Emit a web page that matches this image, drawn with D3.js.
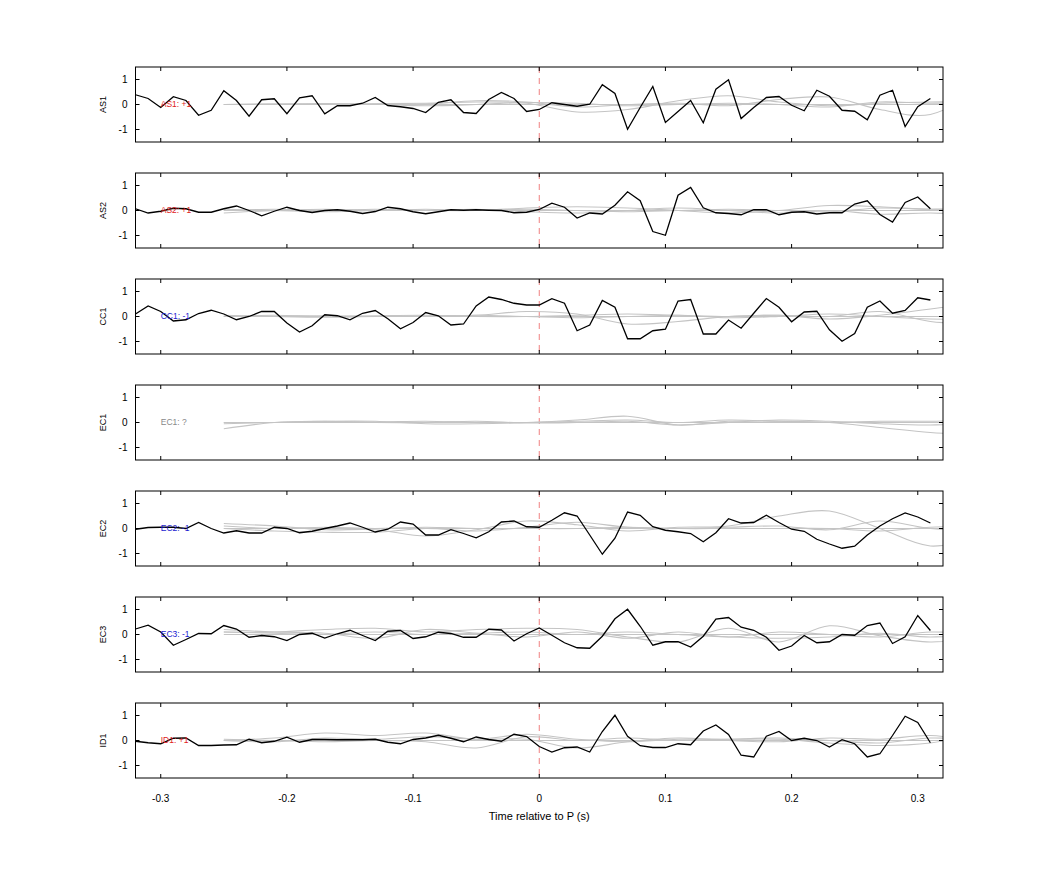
<!DOCTYPE html>
<html>
<head>
<meta charset="UTF-8">
<script src="https://d3js.org/d3.v7.min.js"></script>
<style>
  body { margin: 0; background: #fff; }
  text { font-family: "Liberation Sans", Arial, sans-serif; }
</style>
</head>
<body>
<svg id="chart" width="1042" height="875"></svg>
<script>
// stations and polarity labels
const stations = ["AS1", "AS2", "CC1", "EC1", "EC2", "EC3", "ID1"];
const polarity = ["+1", "+1", "-1", "?", "-1", "-1", "+1"];

// black trace sample times: -0.32 .. 0.31 step 0.01
const traceTimes = d3.range(64).map(i => +(-0.32 + i * 0.01).toFixed(2));

const traceAS1 = [0.39,0.24,-0.12,0.31,0.16,-0.43,-0.23,0.55,0.16,-0.47,0.19,0.23,-0.37,0.27,0.35,-0.37,-0.05,-0.05,0.05,0.28,-0.04,-0.09,-0.16,-0.32,0.09,0.19,-0.32,-0.36,0.2,0.48,0.24,-0.28,-0.2,0.07,0.0,-0.07,0.01,0.79,0.44,-0.99,-0.12,0.72,-0.72,-0.28,0.16,-0.73,0.61,0.99,-0.56,-0.12,0.28,0.32,-0.03,-0.25,0.57,0.33,-0.23,-0.27,-0.61,0.37,0.57,-0.88,-0.09,0.24];
const traceAS2 = [0.07,-0.1,-0.03,0.09,0.07,-0.07,-0.07,0.07,0.18,0,-0.21,-0.03,0.13,0,-0.08,0,0.03,-0.03,-0.12,-0.04,0.13,0.07,-0.05,-0.13,-0.05,0.03,0.01,0.03,0.01,0,-0.09,-0.07,0.04,0.29,0.13,-0.3,-0.1,-0.14,0.21,0.75,0.39,-0.84,-0.99,0.61,0.92,0.11,-0.09,-0.12,-0.17,0.03,0.03,-0.17,-0.07,-0.05,-0.14,-0.09,-0.09,0.26,0.39,-0.16,-0.46,0.32,0.54,0.07];
const traceCC1 = [0.1,0.42,0.2,-0.18,-0.13,0.12,0.25,0.1,-0.13,0,0.2,0.2,-0.26,-0.62,-0.37,0.07,0.03,-0.13,0.13,0.24,-0.09,-0.49,-0.24,0.16,0.03,-0.34,-0.3,0.42,0.78,0.68,0.53,0.46,0.46,0.71,0.53,-0.57,-0.34,0.64,0.37,-0.89,-0.89,-0.57,-0.51,0.62,0.68,-0.7,-0.7,-0.14,-0.47,0.13,0.72,0.37,-0.21,0.18,0.21,-0.53,-0.99,-0.68,0.37,0.62,0.13,0.24,0.75,0.66];
const traceEC1 = null;
const traceEC2 = [-0.03,0.04,0.05,0.05,0,0.24,0,-0.18,-0.09,-0.18,-0.18,0.05,0,-0.17,-0.11,0,0.1,0.22,0.05,-0.14,-0.03,0.26,0.18,-0.26,-0.26,-0.05,-0.2,-0.37,-0.13,0.26,0.3,0.07,0.05,0.33,0.63,0.5,-0.26,-1.03,-0.39,0.66,0.53,0.07,-0.07,-0.13,-0.2,-0.53,-0.17,0.39,0.22,0.24,0.53,0.24,-0.03,-0.11,-0.43,-0.62,-0.79,-0.71,-0.26,0.1,0.39,0.62,0.46,0.22];
const traceEC3 = [0.22,0.37,0.1,-0.43,-0.2,0.04,0.03,0.36,0.22,-0.11,-0.04,-0.09,-0.24,0,0.05,-0.14,0.03,0.17,-0.04,-0.24,0.13,0.16,-0.16,-0.09,0.09,0.04,-0.11,-0.11,0.21,0.18,-0.26,0.03,0.26,-0.03,-0.33,-0.53,-0.55,-0.07,0.63,1.01,0.33,-0.43,-0.29,-0.29,-0.5,-0.07,0.62,0.68,0.29,0.17,-0.11,-0.63,-0.46,-0.04,-0.33,-0.29,0,-0.03,0.36,0.46,-0.36,-0.09,0.76,0.16];
const traceID1 = [-0.03,-0.09,-0.13,0.09,0.1,-0.2,-0.2,-0.18,-0.17,0.05,-0.09,-0.03,0.13,-0.07,0.04,0.04,0.03,0.03,0.03,0.05,-0.07,-0.13,0.04,0.1,0.21,0.09,-0.05,0.14,0.04,-0.03,0.25,0.16,-0.24,-0.46,-0.29,-0.26,-0.46,0.36,1.01,0.17,-0.21,-0.28,-0.28,-0.13,-0.17,0.38,0.62,0.24,-0.59,-0.66,0.17,0.36,0,0.09,0,-0.26,0.03,-0.13,-0.66,-0.53,0.2,0.97,0.72,-0.09];
const traces = [traceAS1, traceAS2, traceCC1, traceEC1, traceEC2, traceEC3, traceID1];

// gray synthetic traces, sampled every 0.04 s from -0.25 to 0.35
const grayTimes = [-0.25,-0.21,-0.17,-0.13,-0.09,-0.05,-0.01,0.03,0.07,0.11,0.15,0.19,0.23,0.27,0.31,0.35];
const grayAS1 = [
  [0,0.02,0,0.03,0.05,0.1,0.05,-0.3,-0.2,0.15,0.35,0.1,-0.05,0.05,0.1,0.1],
  [0,0,0.02,0,0.02,0.15,0.1,-0.1,0,0.05,-0.05,0.2,0.3,-0.2,-0.4,0.6],
  [0,0.02,0.04,0.02,-0.05,0,0.08,0.05,-0.05,0,0.05,0,-0.1,0.1,0.05,0.1],
  [0,0,0,0,0,0,0,0,0,0,0,0,0,0,0,0]];
const grayAS2 = [
  [-0.1,0,0.05,0,0.05,0,0.1,0.15,0.1,0,-0.1,0,0.2,0.15,0.05,0.2],
  [0,0.05,0,0.05,0,0.05,-0.05,-0.1,0,0.1,0,-0.1,0,-0.15,-0.1,-0.2],
  [0.05,0,-0.05,0,0,0,0.05,0,-0.05,0,0.05,0,-0.05,0.1,0.05,0],
  [0,0,0,0,0,0,0,0,0,0,0,0,0,0,0,0]];
const grayCC1 = [
  [0,0,0.03,0,0.02,0.05,0.2,0.1,-0.3,-0.2,0,0.05,0,0.2,-0.2,-0.3],
  [0,0.05,0,0.03,0.05,0,0,0.05,0.1,0.05,0,0.05,-0.1,0.05,0.3,0.6],
  [0.05,0,-0.03,0,0,0.05,0,-0.05,0,0.05,-0.05,0,0.1,0,-0.1,-0.1],
  [0,0,0,0,0,0,0,0,0,0,0,0,0,0,0,0]];
const grayEC1 = [
  [-0.25,0,0.05,0.05,-0.05,-0.05,0,0.1,0.25,-0.1,0.05,0.05,0,-0.2,-0.4,-0.5],
  [0,0,0.03,0.02,0.05,0,0,0.05,0.1,0,0.1,0.05,0,0.05,0.05,0.1],
  [-0.05,0,0.05,0,0,0.05,-0.02,0,0.05,-0.1,0,0.1,0.05,-0.05,-0.1,0],
  [0,0,0,0,0,0,0,0,0,0,0,0,0,0,0,0]];
const grayEC2 = [
  [0.2,0.1,-0.05,-0.05,-0.3,-0.05,0.3,0.15,-0.1,0.05,0.1,0.5,0.7,0,-0.7,-0.3],
  [0,-0.1,-0.15,-0.15,0,-0.1,0.05,0.25,0.05,0,0.05,0.1,-0.05,0.3,0,-0.1],
  [0.1,0,0.05,0,0.05,0,0,0,0.05,0,0,0,0,-0.1,0.05,0.1],
  [0,0,0,0,0,0,0,0,0,0,0,0,0,0,0,0]];
const grayEC3 = [
  [0.1,0.1,0.2,0.25,0.1,0.2,0.25,0.2,-0.1,-0.3,0.25,-0.3,0.35,-0.05,-0.3,-0.1],
  [0.2,0.1,0.05,-0.15,0.2,0.05,-0.1,0.1,-0.15,0.1,-0.1,0.1,0,-0.1,0.1,0],
  [0.1,0.05,0,0.1,0,0.05,0.1,0,0.1,0,-0.1,-0.15,-0.1,0.05,-0.1,0.05],
  [0,0,0,0,0,0,0,0,0,0,0,0,0,0,0,0]];
const grayID1 = [
  [0,0.1,0.3,0.2,0.3,0.05,0.25,0.05,-0.05,0.05,0.05,0.05,-0.1,-0.2,-0.1,0.3],
  [0,-0.05,0.1,0.05,0.15,0.05,0.05,-0.3,-0.05,0.1,0,-0.05,0.1,0.05,0.2,-0.1],
  [0.05,0,-0.05,0,-0.05,-0.3,0.15,0,0.1,0,0.05,0.1,0,-0.1,0.1,0],
  [0,0,0,0,0,0,0,0,0,0,0,0,0,0,0,0]];
const grays = [grayAS1, grayAS2, grayCC1, grayEC1, grayEC2, grayEC3, grayID1];

const xTicks = [-0.3, -0.2, -0.1, 0, 0.1, 0.2, 0.3];
const yTicks = [-1, 0, 1];

const svg = d3.select("#chart");
const left = 135.5, right = 943;
const panelTop = 67, panelH = 75, panelStep = 106;

const x = d3.scaleLinear().domain([-0.32, 0.32]).range([left, right]);
const polColor = p => p === "+1" ? "#e0201a" : p === "-1" ? "#1a1ad0" : "#888";

svg.append("clipPath").attr("id", "clip")
  .append("rect").attr("x", left).attr("y", 0).attr("width", right - left).attr("height", panelH);

stations.forEach((st, i) => {
  const top = panelTop + i * panelStep;
  const g = svg.append("g").attr("transform", `translate(0,${top})`);
  const y = d3.scaleLinear().domain([-1.5, 1.5]).range([panelH, 0]);

  const plot = g.append("g").attr("clip-path", "url(#clip)");

  // zero-time marker
  plot.append("line")
    .attr("x1", x(0)).attr("x2", x(0)).attr("y1", 0).attr("y2", panelH)
    .attr("stroke", "#f08080").attr("stroke-width", 1).attr("stroke-dasharray", "6,5");

  const gLine = d3.line().x((d, k) => x(grayTimes[k])).y(d => y(d)).curve(d3.curveCardinal);
  grays[i].forEach(s => {
    plot.append("path").datum(s).attr("d", gLine)
      .attr("fill", "none").attr("stroke", "#c4c4c4").attr("stroke-width", 1.1);
  });

  if (traces[i]) {
    const line = d3.line().x((d, k) => x(traceTimes[k])).y(d => y(d));
    plot.append("path").datum(traces[i]).attr("d", line)
      .attr("fill", "none").attr("stroke", "#000").attr("stroke-width", 1.3);
  }

  g.append("text")
    .attr("x", x(-0.3)).attr("y", y(0)).attr("dy", "0.35em")
    .style("font-size", "8.5px").attr("fill", polColor(polarity[i]))
    .text(`${st}: ${polarity[i]}`);

  // frame and ticks
  g.append("rect").attr("x", left).attr("y", 0).attr("width", right - left).attr("height", panelH)
    .attr("fill", "none").attr("stroke", "#000").attr("stroke-width", 1);

  xTicks.forEach(t => {
    g.append("line").attr("x1", x(t)).attr("x2", x(t)).attr("y1", panelH).attr("y2", panelH - 4).attr("stroke", "#000");
    g.append("line").attr("x1", x(t)).attr("x2", x(t)).attr("y1", 0).attr("y2", 4).attr("stroke", "#000");
  });
  yTicks.forEach(t => {
    g.append("line").attr("x1", left).attr("x2", left + 4).attr("y1", y(t)).attr("y2", y(t)).attr("stroke", "#000");
    g.append("line").attr("x1", right).attr("x2", right - 4).attr("y1", y(t)).attr("y2", y(t)).attr("stroke", "#000");
    g.append("text").attr("x", left - 8).attr("y", y(t)).attr("dy", "0.35em")
      .attr("text-anchor", "end").style("font-size", "10px").text(t);
  });

  g.append("text")
    .attr("transform", `translate(${left - 30},${y(0)}) rotate(-90)`)
    .attr("text-anchor", "middle").style("font-size", "9px").text(st);

  if (i === stations.length - 1) {
    xTicks.forEach(t => {
      g.append("text").attr("x", x(t)).attr("y", panelH + 24)
        .attr("text-anchor", "middle").style("font-size", "10px").text(t);
    });
    g.append("text").attr("x", x(0)).attr("y", panelH + 42)
      .attr("text-anchor", "middle").style("font-size", "11px").text("Time relative to P (s)");
  }
});
</script>
</body>
</html>
